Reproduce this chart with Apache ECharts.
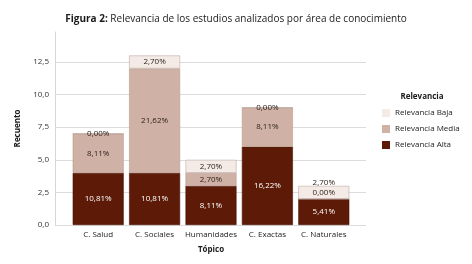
<!DOCTYPE html>
<html>
<head>
<meta charset="utf-8">
<script src="https://cdn.jsdelivr.net/npm/echarts@6/dist/echarts.min.js"></script>
<style>
	html, body { margin: 0; padding: 0; background: #fff; }
	#chart { width: 472px; height: 264px; }
</style>
</head>
<body>
<div id="chart"></div>
<script>
	var categories = ['C. Salud', 'C. Sociales', 'Humanidades', 'C. Exactas', 'C. Naturales'];
	var alta = [4, 4, 3, 6, 2];
	var media = [3, 8, 1, 3, 0];
	var baja = [0, 1, 1, 0, 1];
	var altaPct = ['10,81%', '10,81%', '8,11%', '16,22%', '5,41%'];
	var mediaPct = ['8,11%', '21,62%', '2,70%', '8,11%', '0,00%'];
	var bajaPct = ['0,00%', '2,70%', '2,70%', '0,00%', '2,70%'];
	var yTicks = [0, 2.5, 5, 7.5, 10, 12.5];

	var font = 'Open Sans';
	var yMax = 14.8;

	function makeData(values, offsets) {
		return values.map(function (v, i) {
			var d = { value: v };
			if (offsets && offsets[i]) {
				d.label = { offset: offsets[i] };
			}
			return d;
		});
	}

	function makeSeries(name, values, pct, color, textColor, offsets, border) {
		return {
			name: name,
			type: 'bar',
			stack: 'total',
			xAxisIndex: 1,
			yAxisIndex: 1,
			barWidth: 51,
			itemStyle: {
				color: color,
				borderColor: border,
				borderWidth: 0.6
			},
			label: {
				show: true,
				position: 'inside',
				color: textColor,
				fontFamily: font,
				fontSize: 8,
				formatter: function (p) { return pct[p.dataIndex]; }
			},
			data: makeData(values, offsets)
		};
	}

	var option = {
		backgroundColor: '#fff',
		animation: false,
		title: [{
			text: '{b|Figura 2:} Relevancia de los estudios analizados por área de conocimiento',
			left: 'center',
			top: 9,
			textStyle: {
				fontFamily: font,
				fontSize: 10,
				fontWeight: 'normal',
				color: '#1a1a1a',
				rich: {
					b: { fontFamily: font, fontSize: 10, fontWeight: 'bold', color: '#1a1a1a' }
				}
			}
		}, {
			text: 'Relevancia',
			left: 417,
			textAlign: 'center',
			top: 88,
			textStyle: { fontFamily: font, fontSize: 8, fontWeight: 'bold', color: '#1a1a1a' }
		}],
		legend: {
			orient: 'vertical',
			left: 382,
			top: 109,
			padding: 0,
			itemWidth: 8,
			itemHeight: 8,
			itemGap: 8,
			icon: 'rect',
			itemStyle: { borderWidth: 0 },
			textStyle: { fontFamily: font, fontSize: 8, color: '#222' },
			data: ['Relevancia Baja', 'Relevancia Media', 'Relevancia Alta']
		},
		grid: [
			{ left: 55, right: 106, top: 32, bottom: 39 },
			{ left: 70, right: 120, top: 32, bottom: 39 }
		],
		xAxis: [{
			gridIndex: 0,
			type: 'value',
			show: false
		}, {
			gridIndex: 1,
			type: 'category',
			data: categories,
			axisLine: { show: false },
			axisTick: { show: false },
			axisLabel: { fontFamily: font, fontSize: 8, color: '#222', margin: 6, interval: 0 },
			name: 'Tópico',
			nameLocation: 'middle',
			nameGap: 21,
			nameTextStyle: { fontFamily: font, fontSize: 8, fontWeight: 'bold', color: '#1a1a1a' }
		}],
		yAxis: [{
			gridIndex: 0,
			type: 'value',
			min: 0,
			max: yMax,
			interval: 2.5,
			axisLine: { show: true, lineStyle: { color: '#d6d6d6' } },
			axisTick: { show: false },
			axisLabel: {
				fontFamily: font,
				fontSize: 8,
				color: '#333',
				margin: 6,
				showMaxLabel: false,
				formatter: function (v) {
					return yTicks.indexOf(v) >= 0 ? v.toFixed(1).replace('.', ',') : '';
				}
			},
			splitLine: {
				show: true,
				lineStyle: {
					color: ['#dcdcdc', '#dcdcdc', '#dcdcdc', '#dcdcdc', '#dcdcdc', '#dcdcdc', 'rgba(0,0,0,0)']
				}
			},
			name: 'Recuento',
			nameLocation: 'middle',
			nameGap: 33,
			nameTextStyle: { fontFamily: font, fontSize: 8, fontWeight: 'bold', color: '#1a1a1a' }
		}, {
			gridIndex: 1,
			type: 'value',
			min: 0,
			max: yMax,
			show: false
		}],
		series: [
			makeSeries('Relevancia Alta', alta, altaPct, '#5c1a07', '#fff', null, '#4a1405'),
			makeSeries('Relevancia Media', media, mediaPct, '#cfb2a5', '#2e211b', [null, null, null, null, [0, -6]], '#b89b8f'),
			makeSeries('Relevancia Baja', baja, bajaPct, '#f4ebe6', '#2e211b', [null, null, null, null, [0, -10]], '#bcaaa2')
		]
	};

	var myChart = echarts.init(document.getElementById('chart'));
	myChart.setOption(option);
</script>
</body>
</html>
